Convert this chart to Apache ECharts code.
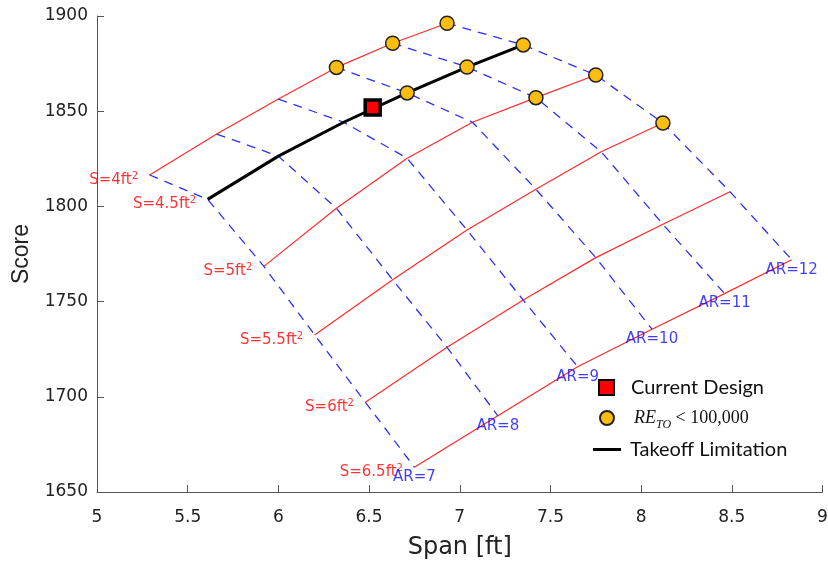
<!DOCTYPE html>
<html><head><meta charset="utf-8">
<script src="https://cdn.jsdelivr.net/npm/echarts/dist/echarts.min.js"></script>
<style>html,body{margin:0;padding:0;background:#fff}#c{width:828px;height:564px}</style>
</head><body><div id="c"></div><script>
// Aspect ratios (blue dashed lines) and wing areas in ft^2 (red lines)
const aspectRatios = [7, 8, 9, 10, 11, 12];
const wingAreas = [4, 4.5, 5, 5.5, 6, 6.5];

// Span [ft] of each grid node, one row per wing area, columns AR 7..12
const spanS4  = [5.29, 5.66, 6.00, 6.32, 6.63, 6.93];
const spanS45 = [5.61, 6.00, 6.36, 6.71, 7.04, 7.35];
const spanS5  = [5.92, 6.32, 6.71, 7.07, 7.42, 7.75];
const spanS55 = [6.20, 6.63, 7.04, 7.42, 7.78, 8.12];
const spanS6  = [6.48, 6.93, 7.35, 7.75, 8.12, 8.49];
const spanS65 = [6.75, 7.21, 7.65, 8.06, 8.46, 8.83];

// Score of each grid node
const scoreS4  = [1816.5, 1838.0, 1856.4, 1873.0, 1885.7, 1896.2];
const scoreS45 = [1803.7, 1826.4, 1844.2, 1859.6, 1873.2, 1884.8];
const scoreS5  = [1768.5, 1799.0, 1825.3, 1844.2, 1857.1, 1869.0];
const scoreS55 = [1732.5, 1761.5, 1787.6, 1809.0, 1828.7, 1843.8];
const scoreS6  = [1697.1, 1726.0, 1750.8, 1773.1, 1790.6, 1807.7];
const scoreS65 = [1663.0, 1690.0, 1715.8, 1735.5, 1754.2, 1772.0];

// Nodes with RE_TO < 100,000 as [wing area, aspect ratio]
const lowReNodes = [[4,10],[4,11],[4,12],[4.5,10],[4.5,11],[4.5,12],[5,11],[5,12],[5.5,12]];
// Current design point
const currentSpan = [6.52];
const currentScore = [1852.0];
// Takeoff limitation follows this wing area
const takeoffArea = 4.5;

// Axis ticks
const xTicks = [5, 5.5, 6, 6.5, 7, 7.5, 8, 8.5, 9];
const yTicks = [1650, 1700, 1750, 1800, 1850, 1900];

const spanRows = [spanS4, spanS45, spanS5, spanS55, spanS6, spanS65];
const scoreRows = [scoreS4, scoreS45, scoreS5, scoreS55, scoreS6, scoreS65];

const RED = '#ff2a2a', BLUE = '#3030f5', RED_TXT = '#ff0000', BLUE_TXT = '#0f0fff', FONT = 'DejaVu Sans';
const series = [];

// red constant-S lines
wingAreas.forEach((S, i) => {
  if (S === takeoffArea) return;
  series.push({
    type: 'line', name: 'S=' + S, silent: true, symbol: 'none', z: 2,
    lineStyle: { color: RED, width: 1.2 },
    data: spanRows[i].map((x, j) => [x, scoreRows[i][j]])
  });
});
// blue dashed constant-AR lines
aspectRatios.forEach((ar, j) => {
  series.push({
    type: 'line', name: 'AR=' + ar, silent: true, symbol: 'none', z: 3,
    lineStyle: { color: BLUE, width: 1.3, type: [9, 7] },
    data: wingAreas.map((S, i) => [spanRows[i][j], scoreRows[i][j]])
  });
});
// takeoff limitation (black)
const ti = wingAreas.indexOf(takeoffArea);
series.push({
  type: 'line', name: 'Takeoff Limitation', silent: true, symbol: 'none', showSymbol: false, z: 4,
  lineStyle: { color: '#000', width: 3 }, itemStyle: { color: '#000' },
  data: spanRows[ti].map((x, j) => [x, scoreRows[ti][j]])
});
// S labels
const redRich = {
  b: { fontSize: 15, fontFamily: FONT, color: RED_TXT, lineHeight: 18 },
  s: { fontSize: 10, fontFamily: FONT, color: RED_TXT, lineHeight: 18, verticalAlign: 'top' }
};
series.push({
  type: 'scatter', name: 'sLabels', silent: true, symbolSize: 1, z: 7,
  itemStyle: { color: 'rgba(0,0,0,0)' },
  label: { show: true, position: 'left', distance: 11, offset: [0, 5], rich: redRich,
    formatter: p => '{b|S=' + wingAreas[p.dataIndex] + 'ft}{s|2}' },
  data: wingAreas.map((S, i) => [spanRows[i][0], scoreRows[i][0]])
});
// AR labels
const last = wingAreas.length - 1;
series.push({
  type: 'scatter', name: 'arLabels', silent: true, symbolSize: 1, z: 7,
  itemStyle: { color: 'rgba(0,0,0,0)' },
  label: { show: true, position: 'bottom', distance: 2, color: BLUE_TXT, fontSize: 15, fontFamily: FONT,
    formatter: p => 'AR=' + aspectRatios[p.dataIndex] },
  data: aspectRatios.map((ar, j) => [spanRows[last][j], scoreRows[last][j]])
});
// RE_TO circles
series.push({
  type: 'scatter', name: 'RE_TO < 100,000', silent: true, symbol: 'circle', symbolSize: 14, z: 8,
  itemStyle: { color: '#fbbd0f', borderColor: '#222', borderWidth: 1.5, opacity: 1 },
  data: lowReNodes.map(([S, ar]) => {
    const i = wingAreas.indexOf(S), j = aspectRatios.indexOf(ar);
    return [spanRows[i][j], scoreRows[i][j]];
  })
});
// current design
series.push({
  type: 'scatter', name: 'Current Design', silent: true, symbol: 'rect', symbolSize: 15, z: 9,
  itemStyle: { color: '#ff0000', borderColor: '#000', borderWidth: 3.5, opacity: 1 },
  data: currentSpan.map((x, k) => [x, currentScore[k]])
});

const legendText = { fontFamily: 'Lato', fontSize: 20, color: '#111', lineHeight: 15 };
const chart = echarts.init(document.getElementById('c'), null, { renderer: 'canvas' });
chart.setOption({
  animation: false,
  backgroundColor: '#fff',
  grid: { left: 97, right: 5.5, top: 16, bottom: 72, outerBoundsMode: 'none', containLabel: false },
  xAxis: {
    type: 'value', min: xTicks[0], max: xTicks[xTicks.length - 1], interval: 0.5,
    name: 'Span [ft]', nameLocation: 'middle', nameGap: 44,
    nameTextStyle: { fontFamily: FONT, fontSize: 24, color: '#222' },
    axisLine: { show: true, onZero: false, lineStyle: { color: '#555', width: 1 } },
    axisTick: { show: true, inside: true, length: 7, lineStyle: { color: '#555' } },
    axisLabel: { margin: 17, fontFamily: FONT, fontSize: 17, color: '#222', formatter: v => String(v) },
    splitLine: { show: false }
  },
  yAxis: {
    type: 'value', min: yTicks[0], max: yTicks[yTicks.length - 1], interval: 50,
    name: 'Score', nameLocation: 'middle', nameGap: 64,
    nameTextStyle: { fontFamily: 'Liberation Sans', fontSize: 23, color: '#222' },
    axisLine: { show: true, lineStyle: { color: '#555', width: 1 } },
    axisTick: { show: true, inside: true, length: 7, lineStyle: { color: '#555' } },
    axisLabel: { margin: 9, fontFamily: FONT, fontSize: 17, color: '#222', formatter: v => String(v) },
    splitLine: { show: false }
  },
  legend: [
    { data: [{ name: 'Current Design', icon: 'rect' }], selectedMode: false, orient: 'vertical',
      left: 598, top: 377.5, padding: 0, itemWidth: 15, itemHeight: 15,
      textStyle: Object.assign({}, legendText, { padding: [0, 0, 0, 12] }) },
    { data: [{ name: 'RE_TO < 100,000', icon: 'circle' }], selectedMode: false, orient: 'vertical',
      left: 599, top: 409, padding: 0, itemWidth: 14, itemHeight: 14,
      formatter: () => '{r|RE}{t|TO}{n| < 100,000}',
      textStyle: { padding: [0, 0, 0, 15], rich: {
        r: { fontFamily: 'Liberation Serif', fontStyle: 'italic', fontSize: 18, color: '#111', lineHeight: 18, verticalAlign: 'middle' },
        t: { fontFamily: 'Liberation Serif', fontStyle: 'italic', fontSize: 12, color: '#111', lineHeight: 25, verticalAlign: 'bottom' },
        n: { fontFamily: 'Liberation Serif', fontSize: 18, color: '#111', lineHeight: 18, verticalAlign: 'middle' }
      } } },
    { data: [{ name: 'Takeoff Limitation', icon: 'rect', itemStyle: { color: '#000' } }], selectedMode: false, orient: 'vertical',
      left: 593, top: 439.5, padding: 0, itemWidth: 28, itemHeight: 3,
      textStyle: Object.assign({}, legendText, { padding: [0, 0, 0, 4] }) }
  ],
  series: series
});
</script></body></html>
